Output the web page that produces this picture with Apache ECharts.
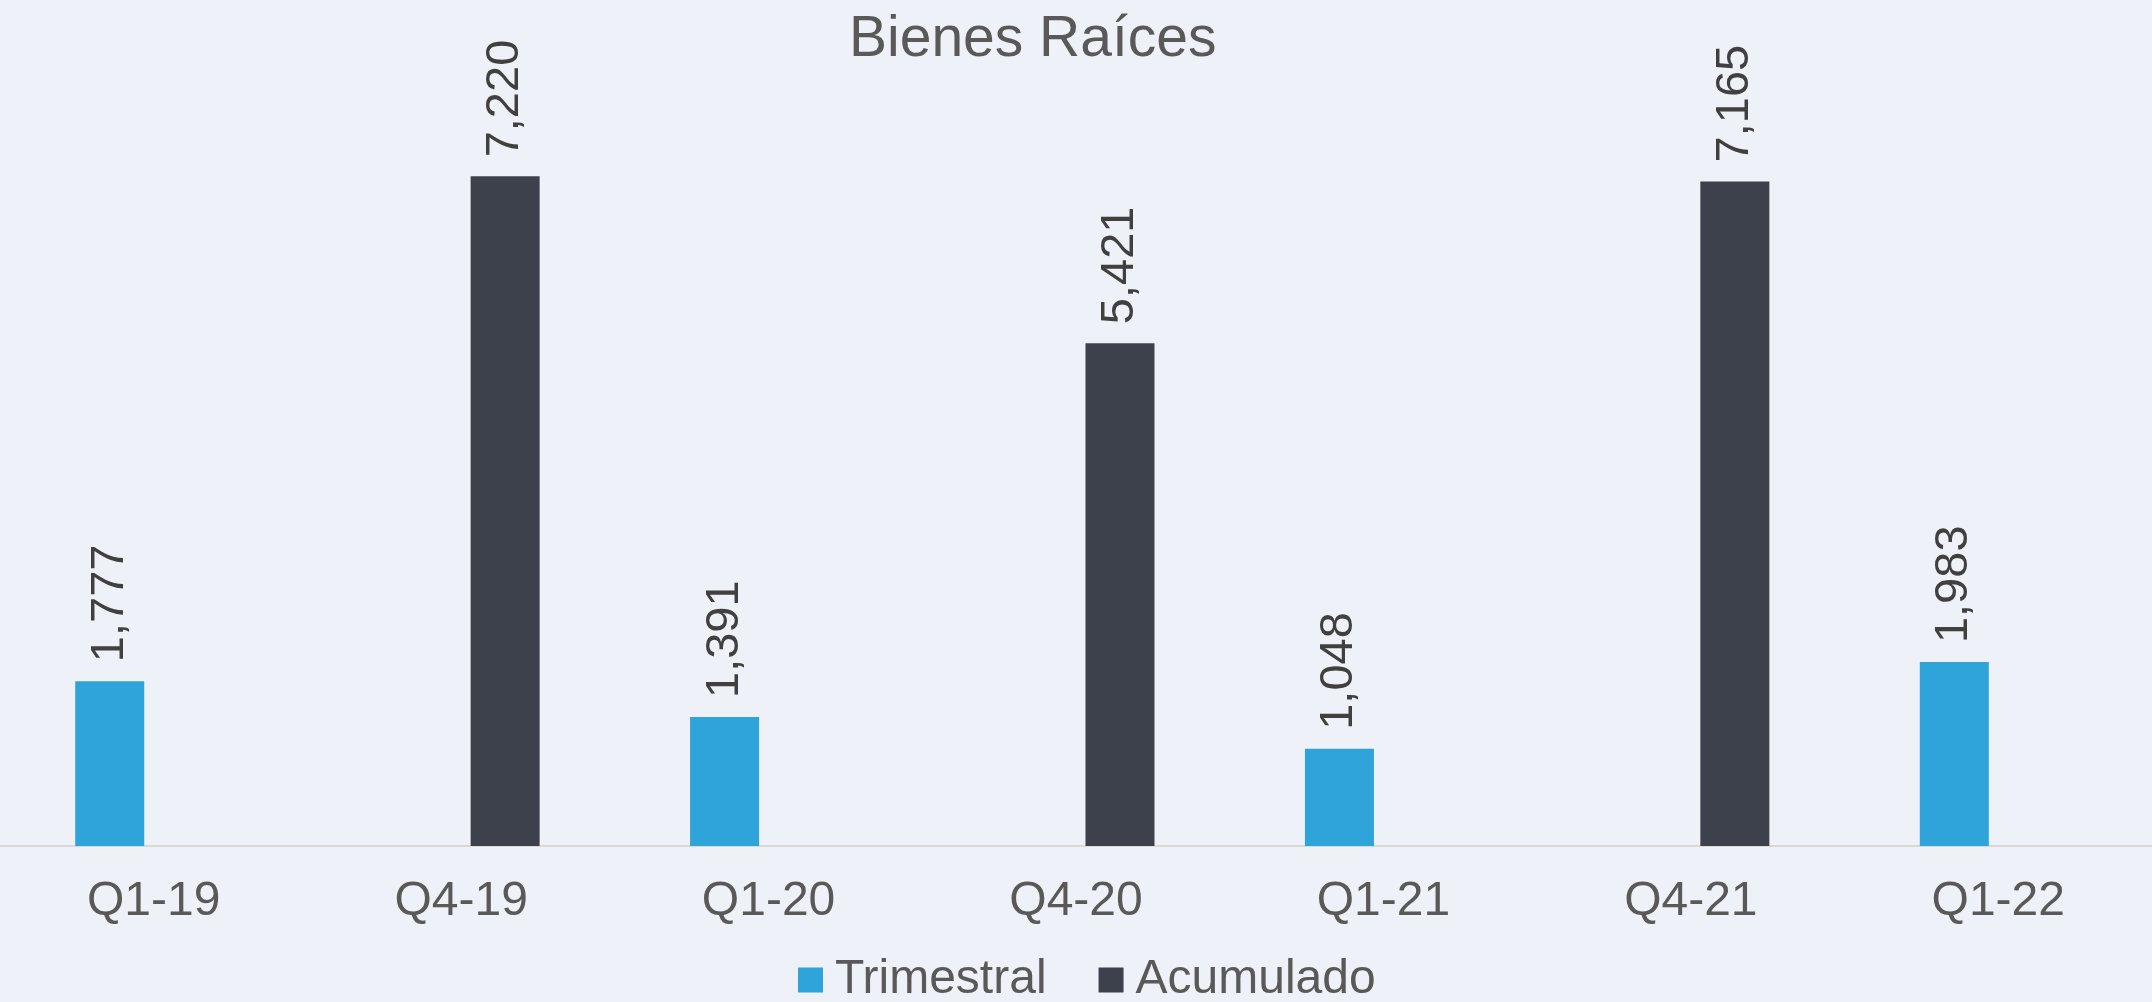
<!DOCTYPE html>
<html>
<head>
<meta charset="utf-8">
<title>Bienes Raíces</title>
<script src="https://cdn.jsdelivr.net/npm/echarts@6/dist/echarts.min.js"></script>
<style>
    html, body { margin: 0; padding: 0; background: #eef1f8; }
    #chart { width: 2152px; height: 1002px; }
</style>
</head>
<body>
<div id="chart"></div>
<script>
    var categories = ['Q1-19', 'Q4-19', 'Q1-20', 'Q4-20', 'Q1-21', 'Q4-21', 'Q1-22']
    var trimestral = [1777, '-', 1391, '-', 1048, '-', 1983]
    var acumulado = ['-', 7220, '-', 5421, '-', 7165, '-']

    var font = 'Liberation Sans, Arial, sans-serif'
    var fmt = function (p) {
        return Number(p.value).toLocaleString('en-US')
    }
    var barLabel = {
        show: true,
        position: 'top',
        rotate: 90,
        align: 'left',
        verticalAlign: 'middle',
        distance: 19,
        formatter: fmt,
        color: '#404040',
        fontSize: 47,
        fontFamily: font
    }

    var chart = echarts.init(document.getElementById('chart'))
    chart.setOption({
        backgroundColor: '#eef1f8',
        animation: false,
        title: {
            text: 'Bienes Raíces',
            left: 849,
            top: 12,
            padding: 0,
            textStyle: {
                color: '#595959',
                fontSize: 57,
                fontWeight: 'normal',
                fontFamily: font
            }
        },
        legend: {
            data: ['Trimestral', 'Acumulado'],
            left: 798,
            top: 956,
            padding: 0,
            icon: 'rect',
            itemWidth: 25,
            itemHeight: 25,
            itemGap: 52,
            textStyle: {
                color: '#595959',
                fontSize: 48,
                fontFamily: font,
                padding: [0, 0, 0, 7]
            }
        },
        grid: {
            left: 0,
            right: -4,
            top: 104,
            bottom: 156,
            containLabel: false
        },
        xAxis: {
            type: 'category',
            data: categories,
            axisTick: { show: false },
            axisLine: { lineStyle: { color: '#d9d9d9', width: 2 } },
            axisLabel: {
                color: '#595959',
                fontSize: 48,
                fontFamily: font,
                margin: 32
            }
        },
        yAxis: {
            type: 'value',
            min: 0,
            max: 8000,
            show: false,
            splitLine: { show: false }
        },
        series: [{
            name: 'Trimestral',
            type: 'bar',
            data: trimestral,
            barWidth: 69,
            barGap: '27.5%',
            itemStyle: { color: '#2ea4db' },
            label: barLabel
        }, {
            name: 'Acumulado',
            type: 'bar',
            data: acumulado,
            barWidth: 69,
            barGap: '27.5%',
            itemStyle: { color: '#3d414b' },
            label: barLabel
        }]
    })
</script>
</body>
</html>
